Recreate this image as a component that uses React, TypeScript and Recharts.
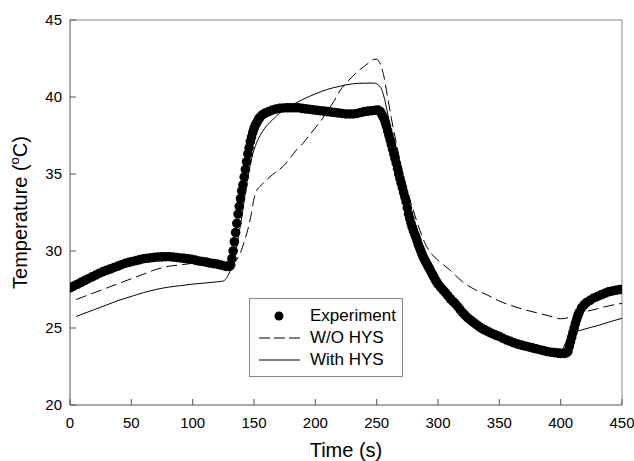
// Temperature vs time: experiment dots and two model curves (with / without hysteresis)
import React from 'react';
import { ComposedChart, Line, Scatter, XAxis, YAxis, ReferenceLine } from 'recharts';

const expTime = [
  0, 3, 6, 9, 12, 15, 18, 21, 24, 27, 30, 33, 36, 39, 42, 45, 48, 51, 54, 57, 60, 63, 66, 69, 72, 75, 78, 81, 84, 87,
  90, 93, 96, 99, 102, 105, 108, 111, 114, 117, 120, 123, 126, 128,
  130, 131, 132, 133, 134, 135, 136, 137, 138, 139, 140, 141, 142, 143, 144, 145, 146, 147, 148, 149, 150, 151, 152,
  153, 154, 155, 157, 159, 162, 165, 168, 171, 174, 177, 180, 183, 186, 189, 192, 195, 198, 201, 204, 207, 210, 213,
  216, 219, 222, 225, 228, 231, 234, 237, 240, 243, 246, 249, 251, 253, 254, 255, 256, 257, 258, 259, 260, 261, 262,
  263, 264, 265, 266, 267, 268, 269, 270, 271, 272, 273, 274, 275, 276, 277, 278, 279, 280, 281, 282, 283, 284, 285,
  286, 287, 288, 289, 290, 291, 292, 293, 294, 295, 296, 297, 298, 299, 300, 302, 304, 306, 308, 310, 312, 314, 316,
  318, 320, 322, 324, 326, 328, 330, 332, 334, 336, 338, 340, 342, 344, 346, 348, 350, 353, 356, 359, 362, 365, 368,
  371, 374, 377, 380, 383, 386, 389, 392, 395, 398, 400,
  403, 405, 406, 407, 408, 409, 410, 411, 412, 413, 414, 415, 417, 419, 421, 424, 427, 430, 433, 436, 439, 442, 445,
  448, 450,
];
const expTemp = [
  27.6, 27.72, 27.84, 27.96, 28.08, 28.2, 28.32, 28.44, 28.56, 28.66, 28.75, 28.84, 28.93, 29.02, 29.11, 29.2, 29.26,
  29.32, 29.38, 29.44, 29.5, 29.53, 29.56, 29.59, 29.61, 29.62, 29.63, 29.63, 29.61, 29.58, 29.55, 29.52, 29.49,
  29.46, 29.41, 29.35, 29.32, 29.28, 29.22, 29.18, 29.15, 29.09, 29.03, 29.0,
  29.0, 29.1, 29.5, 30.0, 30.6, 31.2, 31.8, 32.4, 32.9, 33.4, 33.9, 34.3, 34.8, 35.3, 35.8, 36.3, 36.7, 37.1, 37.4,
  37.7, 37.95, 38.15, 38.3, 38.45, 38.6, 38.7, 38.85, 38.95, 39.05, 39.15, 39.22, 39.26, 39.29, 39.3, 39.3, 39.3,
  39.3, 39.26, 39.23, 39.2, 39.17, 39.14, 39.11, 39.08, 39.05, 39.02, 38.99, 38.96, 38.93, 38.9, 38.9, 38.9, 38.93,
  38.99, 39.05, 39.08, 39.11, 39.14, 39.15, 39.05, 38.9, 38.75, 38.6, 38.35, 38.1, 37.8, 37.5, 37.2, 36.9, 36.6,
  36.3, 36.0, 35.7, 35.35, 35.0, 34.7, 34.4, 34.1, 33.8, 33.5, 33.2, 32.8, 32.4, 32.1, 31.8, 31.55, 31.3, 31.1,
  30.9, 30.65, 30.4, 30.2, 30.0, 29.8, 29.6, 29.45, 29.3, 29.15, 29.0, 28.85, 28.7, 28.55, 28.4, 28.25, 28.1, 27.98,
  27.85, 27.66, 27.48, 27.3, 27.1, 26.9, 26.74, 26.58, 26.4, 26.2, 26.0, 25.84, 25.68, 25.54, 25.42, 25.3, 25.18,
  25.06, 24.96, 24.88, 24.8, 24.72, 24.64, 24.57, 24.51, 24.45, 24.33, 24.22, 24.13, 24.04, 23.95, 23.89, 23.83,
  23.77, 23.71, 23.65, 23.59, 23.53, 23.47, 23.43, 23.4, 23.37, 23.35,
  23.35, 23.4, 23.5, 23.8, 24.1, 24.4, 24.7, 25.0, 25.3, 25.55, 25.8, 26.0, 26.3, 26.5, 26.65, 26.8, 26.95, 27.05,
  27.15, 27.25, 27.35, 27.4, 27.45, 27.5, 27.5,
];

const woTime = [
  5, 10, 20, 30, 40, 50, 60, 70, 80, 90, 100, 110, 120, 128, 132, 136, 139, 142, 145, 148, 150, 152, 155, 160, 165,
  170, 175, 180, 185, 190, 195, 200, 205, 210, 215, 220, 225, 230, 235, 240, 245, 248, 250, 252, 254, 256, 258, 260,
  262, 265, 270, 275, 280, 285, 290, 295, 300, 310, 320, 330, 340, 350, 360, 370, 380, 390, 400, 405, 410, 420, 430,
  440, 450,
];
const woTemp = [
  26.85, 27.0, 27.3, 27.6, 27.9, 28.2, 28.5, 28.8, 29.0, 29.1, 29.2, 29.25, 29.2, 29.15, 29.2, 29.45, 29.9, 30.6,
  31.4, 32.5, 33.4, 33.9, 34.2, 34.6, 34.95, 35.25, 35.6, 36.1, 36.6, 37.0, 37.5, 38.0, 38.5, 39.1, 39.7, 40.4,
  40.9, 41.3, 41.7, 42.0, 42.3, 42.45, 42.45, 42.3, 41.9, 41.3, 40.4, 39.5, 38.6, 37.4, 35.5, 33.9, 32.6, 31.4,
  30.4, 29.8, 29.4, 28.75, 28.0, 27.5, 27.15, 26.75, 26.45, 26.2, 26.0, 25.8, 25.6, 25.65, 25.8, 26.05, 26.25,
  26.45, 26.6,
];

const withTime = [
  5, 10, 20, 30, 40, 50, 60, 70, 80, 90, 100, 110, 120, 125, 128, 131, 134, 137, 140, 143, 146, 149, 152, 155, 160,
  165, 170, 175, 180, 185, 190, 200, 210, 220, 230, 240, 248, 251, 254, 256, 258, 260, 262, 265, 270, 275, 280, 285,
  290, 300, 310, 320, 330, 340, 350, 360, 370, 380, 390, 400, 402, 405, 408, 412, 417, 425, 432, 440, 450,
];
const withTemp = [
  25.75, 25.9, 26.2, 26.5, 26.8, 27.05, 27.3, 27.5, 27.65, 27.75, 27.85, 27.92, 28.0, 28.05, 28.3, 28.8, 29.6, 30.8,
  32.2, 33.8, 35.2, 36.3, 37.0, 37.5, 38.1, 38.5, 38.9, 39.2, 39.45, 39.65, 39.85, 40.2, 40.5, 40.7, 40.85, 40.9,
  40.9, 40.8, 40.5, 40.0, 39.3, 38.5, 37.7, 36.6, 34.4, 32.9, 31.4, 30.2, 29.3, 27.8, 26.85, 26.0, 25.3, 24.8,
  24.4, 24.05, 23.8, 23.65, 23.55, 23.5, 23.7, 24.2, 24.6, 24.75, 24.87, 25.05, 25.2, 25.4, 25.63,
];

const xTicks = [0, 50, 100, 150, 200, 250, 300, 350, 400, 450];
const yTicks = [20, 25, 30, 35, 40, 45];

const expData = expTime.map((t, i) => ({ t, temp: expTemp[i] }));
const woData = woTime.map((t, i) => ({ t, temp: woTemp[i] }));
const withData = withTime.map((t, i) => ({ t, temp: withTemp[i] }));

const FONT = '"Liberation Sans", Arial, sans-serif';
const AXIS = '#555';

const XTick = (props: any) => {
  const { x, y, payload } = props;
  return (
    <g>
      <line x1={x} x2={x} y1={y} y2={y - 6} stroke={AXIS} />
      <text x={x} y={y + 23} textAnchor="middle" fontSize={15} fontFamily={FONT} fill="#000">
        {payload.value}
      </text>
    </g>
  );
};

const YTick = (props: any) => {
  const { x, y, payload } = props;
  return (
    <g>
      <line x1={x} x2={x + 6} y1={y} y2={y} stroke={AXIS} />
      <text x={x - 8} y={y + 5} textAnchor="end" fontSize={15} fontFamily={FONT} fill="#000">
        {payload.value}
      </text>
    </g>
  );
};

const legendRows = [
  { label: 'Experiment', kind: 'dot' },
  { label: 'W/O HYS', kind: 'dash' },
  { label: 'With HYS', kind: 'line' },
];

const LegendBox = () => (
  <div
    style={{
      position: 'absolute',
      left: 249,
      top: 298,
      width: 154,
      height: 79,
      border: '1px solid #888',
      boxSizing: 'border-box',
      background: '#fff',
      fontFamily: FONT,
      fontSize: 17,
      paddingTop: 6,
    }}
  >
    {legendRows.map((r) => (
      <div key={r.label} style={{ display: 'flex', alignItems: 'center', height: 22 }}>
        <svg width={58} height={14} style={{ marginLeft: 6 }}>
          {r.kind === 'dot' && <circle cx={23} cy={7} r={4.5} fill="#000" />}
          {r.kind === 'dash' && <line x1={3} x2={44} y1={7} y2={7} stroke="#000" strokeDasharray="11 4" />}
          {r.kind === 'line' && <line x1={3} x2={44} y1={7} y2={7} stroke="#000" />}
        </svg>
        <span style={{ marginLeft: -4, color: '#000' }}>{r.label}</span>
      </div>
    ))}
  </div>
);

export default function App() {
  return (
    <div style={{ position: 'absolute', left: 0, top: 0, width: 634, height: 461, background: '#fff' }}>
      <ComposedChart width={634} height={461} margin={{ top: 20, right: 12, bottom: 0, left: 0 }}>
        <XAxis
          dataKey="t"
          type="number"
          domain={[0, 450]}
          ticks={xTicks}
          height={56}
          tickSize={0}
          tickMargin={0}
          tickLine={false}
          tick={<XTick />}
          axisLine={{ stroke: AXIS }}
          allowDataOverflow
          label={{ value: 'Time (s)', position: 'insideBottom', offset: 4, fontSize: 20, fontFamily: FONT, fill: '#000' }}
        />
        <YAxis
          type="number"
          domain={[20, 45]}
          ticks={yTicks}
          width={70}
          tickSize={0}
          tickMargin={0}
          tickLine={false}
          tick={<YTick />}
          axisLine={{ stroke: AXIS }}
          allowDataOverflow
          label={(p: any) => {
            const vb = p.viewBox || {};
            const cy = (vb.y || 20) + (vb.height || 385) / 2;
            return (
              <text
                x={27}
                y={cy}
                transform={`rotate(-90 27 ${cy})`}
                textAnchor="middle"
                fontSize={20}
                fontFamily={FONT}
                fill="#000"
              >
                Temperature (<tspan fontSize={13} dy={-8}>o</tspan>
                <tspan dy={8}>C)</tspan>
              </text>
            );
          }}
        />
        <ReferenceLine y={45} stroke="#888" />
        <ReferenceLine x={450} stroke="#888" />
        <Line
          data={woData}
          dataKey="temp"
          type="monotone"
          stroke="#000"
          strokeWidth={1}
          strokeDasharray="11 5"
          dot={false}
          isAnimationActive={false}
          name="W/O HYS"
        />
        <Line
          data={withData}
          dataKey="temp"
          type="monotone"
          stroke="#000"
          strokeWidth={1}
          dot={false}
          isAnimationActive={false}
          name="With HYS"
        />
        <Scatter
          data={expData}
          dataKey="temp"
          fill="#000"
          isAnimationActive={false}
          name="Experiment"
          shape={(p: any) => <circle cx={p.cx} cy={p.cy} r={4.8} fill="#000" />}
        />
      </ComposedChart>
      <LegendBox />
    </div>
  );
}
